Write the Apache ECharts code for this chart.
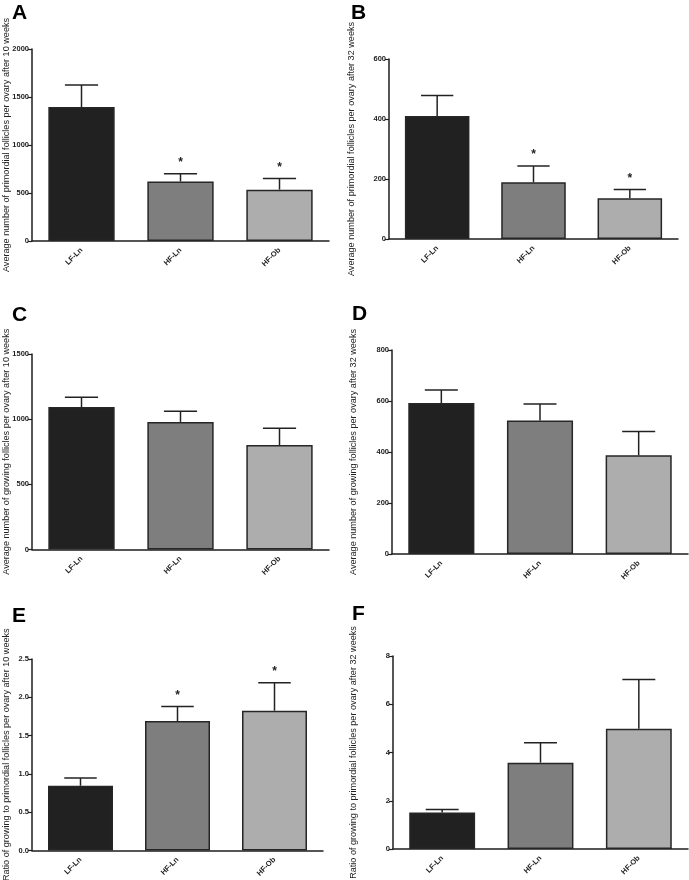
<!DOCTYPE html>
<html>
<head>
<meta charset="utf-8">
<script src="https://cdn.jsdelivr.net/npm/echarts@6/dist/echarts.min.js"></script>
<style>html,body{margin:0;padding:0;background:#fff;}#c{width:689px;height:880px;}</style>
</head>
<body>
<div id="c"></div>
<script>
// ---- data ----
var categories = ['LF-Ln', 'HF-Ln', 'HF-Ob'];
var barColors = ['#212121', '#7e7e7e', '#adadad'];

var primordial10Mean = [1395, 620, 535];
var primordial10Sem  = [230, 80, 115];
var primordial10Sig  = [0, 1, 1];

var primordial32Mean = [410, 189, 136];
var primordial32Sem  = [68, 54, 29];
var primordial32Sig  = [0, 1, 1];

var growing10Mean = [1093, 979, 802];
var growing10Sem  = [75, 82, 128];
var growing10Sig  = [0, 0, 0];

var growing32Mean = [592, 524, 387];
var growing32Sem  = [51, 64, 93];
var growing32Sig  = [0, 0, 0];

var ratio10Mean = [0.845, 1.69, 1.825];
var ratio10Sem  = [0.10, 0.19, 0.365];
var ratio10Sig  = [0, 1, 1];

var ratio32Mean = [1.51, 3.58, 4.98];
var ratio32Sem  = [0.13, 0.82, 2.05];
var ratio32Sig  = [0, 0, 0];

var panelLetters = ['A', 'B', 'C', 'D', 'E', 'F'];
var axisNames = [
  'Average number of primordial follicles per ovary after 10 weeks',
  'Average number of primordial follicles per ovary after 32 weeks',
  'Average number of growing follicles per ovary after 10 weeks',
  'Average number of growing follicles per ovary after 32 weeks',
  'Ratio of growing to primordial follicles per ovary after 10 weeks',
  'Ratio of growing to primordial follicles per ovary after 32 weeks'
];
var yMax = [2000, 600, 1500, 800, 2.5, 8];
var yInterval = [500, 200, 500, 200, 0.5, 2];

var panels = [
  {mean: primordial10Mean, sem: primordial10Sem, sig: primordial10Sig},
  {mean: primordial32Mean, sem: primordial32Sem, sig: primordial32Sig},
  {mean: growing10Mean, sem: growing10Sem, sig: growing10Sig},
  {mean: growing32Mean, sem: growing32Sem, sig: growing32Sig},
  {mean: ratio10Mean, sem: ratio10Sem, sig: ratio10Sig},
  {mean: ratio32Mean, sem: ratio32Sem, sig: ratio32Sig}
];

// ---- layout ----
var grids = [
  {left: 32, top: 49, width: 297, height: 192},
  {left: 389, top: 59, width: 289, height: 180},
  {left: 32, top: 354, width: 297, height: 195.5},
  {left: 392, top: 350, width: 296, height: 204},
  {left: 32, top: 659, width: 291, height: 191.5},
  {left: 393, top: 656, width: 295, height: 193}
].map(function (g) { g.outerBoundsMode = 'none'; g.containLabel = false; return g; });
var nameGaps = [21, 33, 21, 34, 21, 35];
var letterPos = [[12, 3], [351, 3], [12, 305], [352, 304], [12, 606], [352, 604]];

var FONT = 'Liberation Sans, Arial, sans-serif';
var AXC = '#1e1e1e';

var option = {
  animation: false,
  backgroundColor: '#fff',
  title: panelLetters.map(function (t, i) {
    return {text: t, left: letterPos[i][0], top: letterPos[i][1], padding: 0,
      textStyle: {fontFamily: FONT, fontSize: 21, fontWeight: 'bold', color: '#000'}};
  }),
  grid: grids,
  xAxis: grids.map(function (g, i) {
    return {
      type: 'category', gridIndex: i, data: categories,
      axisLine: {lineStyle: {color: AXC, width: 1.5}},
      axisTick: {alignWithLabel: true, length: 4, lineStyle: {color: AXC, width: 1.2}},
      axisLabel: {rotate: 45, fontSize: 7.5, fontFamily: FONT, fontWeight: 'bold', color: '#222', margin: 8, interval: 0},
      splitLine: {show: false}
    };
  }),
  yAxis: grids.map(function (g, i) {
    return {
      type: 'value', gridIndex: i, min: 0, max: yMax[i], interval: yInterval[i],
      name: axisNames[i], nameLocation: 'middle', nameGap: nameGaps[i], nameRotate: 90,
      nameMoveOverlap: false,
      nameTextStyle: {fontFamily: FONT, fontSize: 9.1, color: '#222'},
      axisLine: {show: true, lineStyle: {color: AXC, width: 1.5}},
      axisTick: {show: true, length: 4, lineStyle: {color: AXC, width: 1.2}},
      axisLabel: {fontSize: 7.5, fontFamily: FONT, fontWeight: 'bold', color: '#222', margin: 3,
        formatter: function (v) { return (i === 4) ? v.toFixed(1) : String(v); }},
      splitLine: {show: false}
    };
  }),
  series: []
};

panels.forEach(function (p, i) {
  option.series.push({
    type: 'bar', xAxisIndex: i, yAxisIndex: i, barWidth: '67%',
    data: p.mean.map(function (v, k) {
      return {value: v, itemStyle: {color: barColors[k], borderColor: '#262626', borderWidth: 1.5}};
    }),
    z: 2
  });
  option.series.push({
    type: 'custom', xAxisIndex: i, yAxisIndex: i, z: 3,
    data: p.mean.map(function (v, k) { return [k, v, v + p.sem[k], p.sig[k]]; }),
    renderItem: function (params, api) {
      var x = api.value(0);
      var base = api.coord([x, api.value(1)]);
      var top = api.coord([x, api.value(2)]);
      var bw = api.size([1, 0])[0] * 0.67;
      var half = bw / 4;
      var children = [
        {type: 'line', shape: {x1: base[0], y1: base[1], x2: top[0], y2: top[1]},
          style: {stroke: '#222', lineWidth: 1.5}},
        {type: 'line', shape: {x1: top[0] - half, y1: top[1], x2: top[0] + half, y2: top[1]},
          style: {stroke: '#222', lineWidth: 1.5}}
      ];
      if (api.value(3)) {
        children.push({type: 'text', style: {text: '*', x: top[0], y: top[1] - 5,
          fontSize: 12, fontFamily: FONT, fontWeight: 'bold', fill: '#222', align: 'center', verticalAlign: 'bottom'}});
      }
      return {type: 'group', children: children};
    }
  });
});

var chart = echarts.init(document.getElementById('c'), null, {renderer: 'canvas'});
chart.setOption(option);
</script>
</body>
</html>
